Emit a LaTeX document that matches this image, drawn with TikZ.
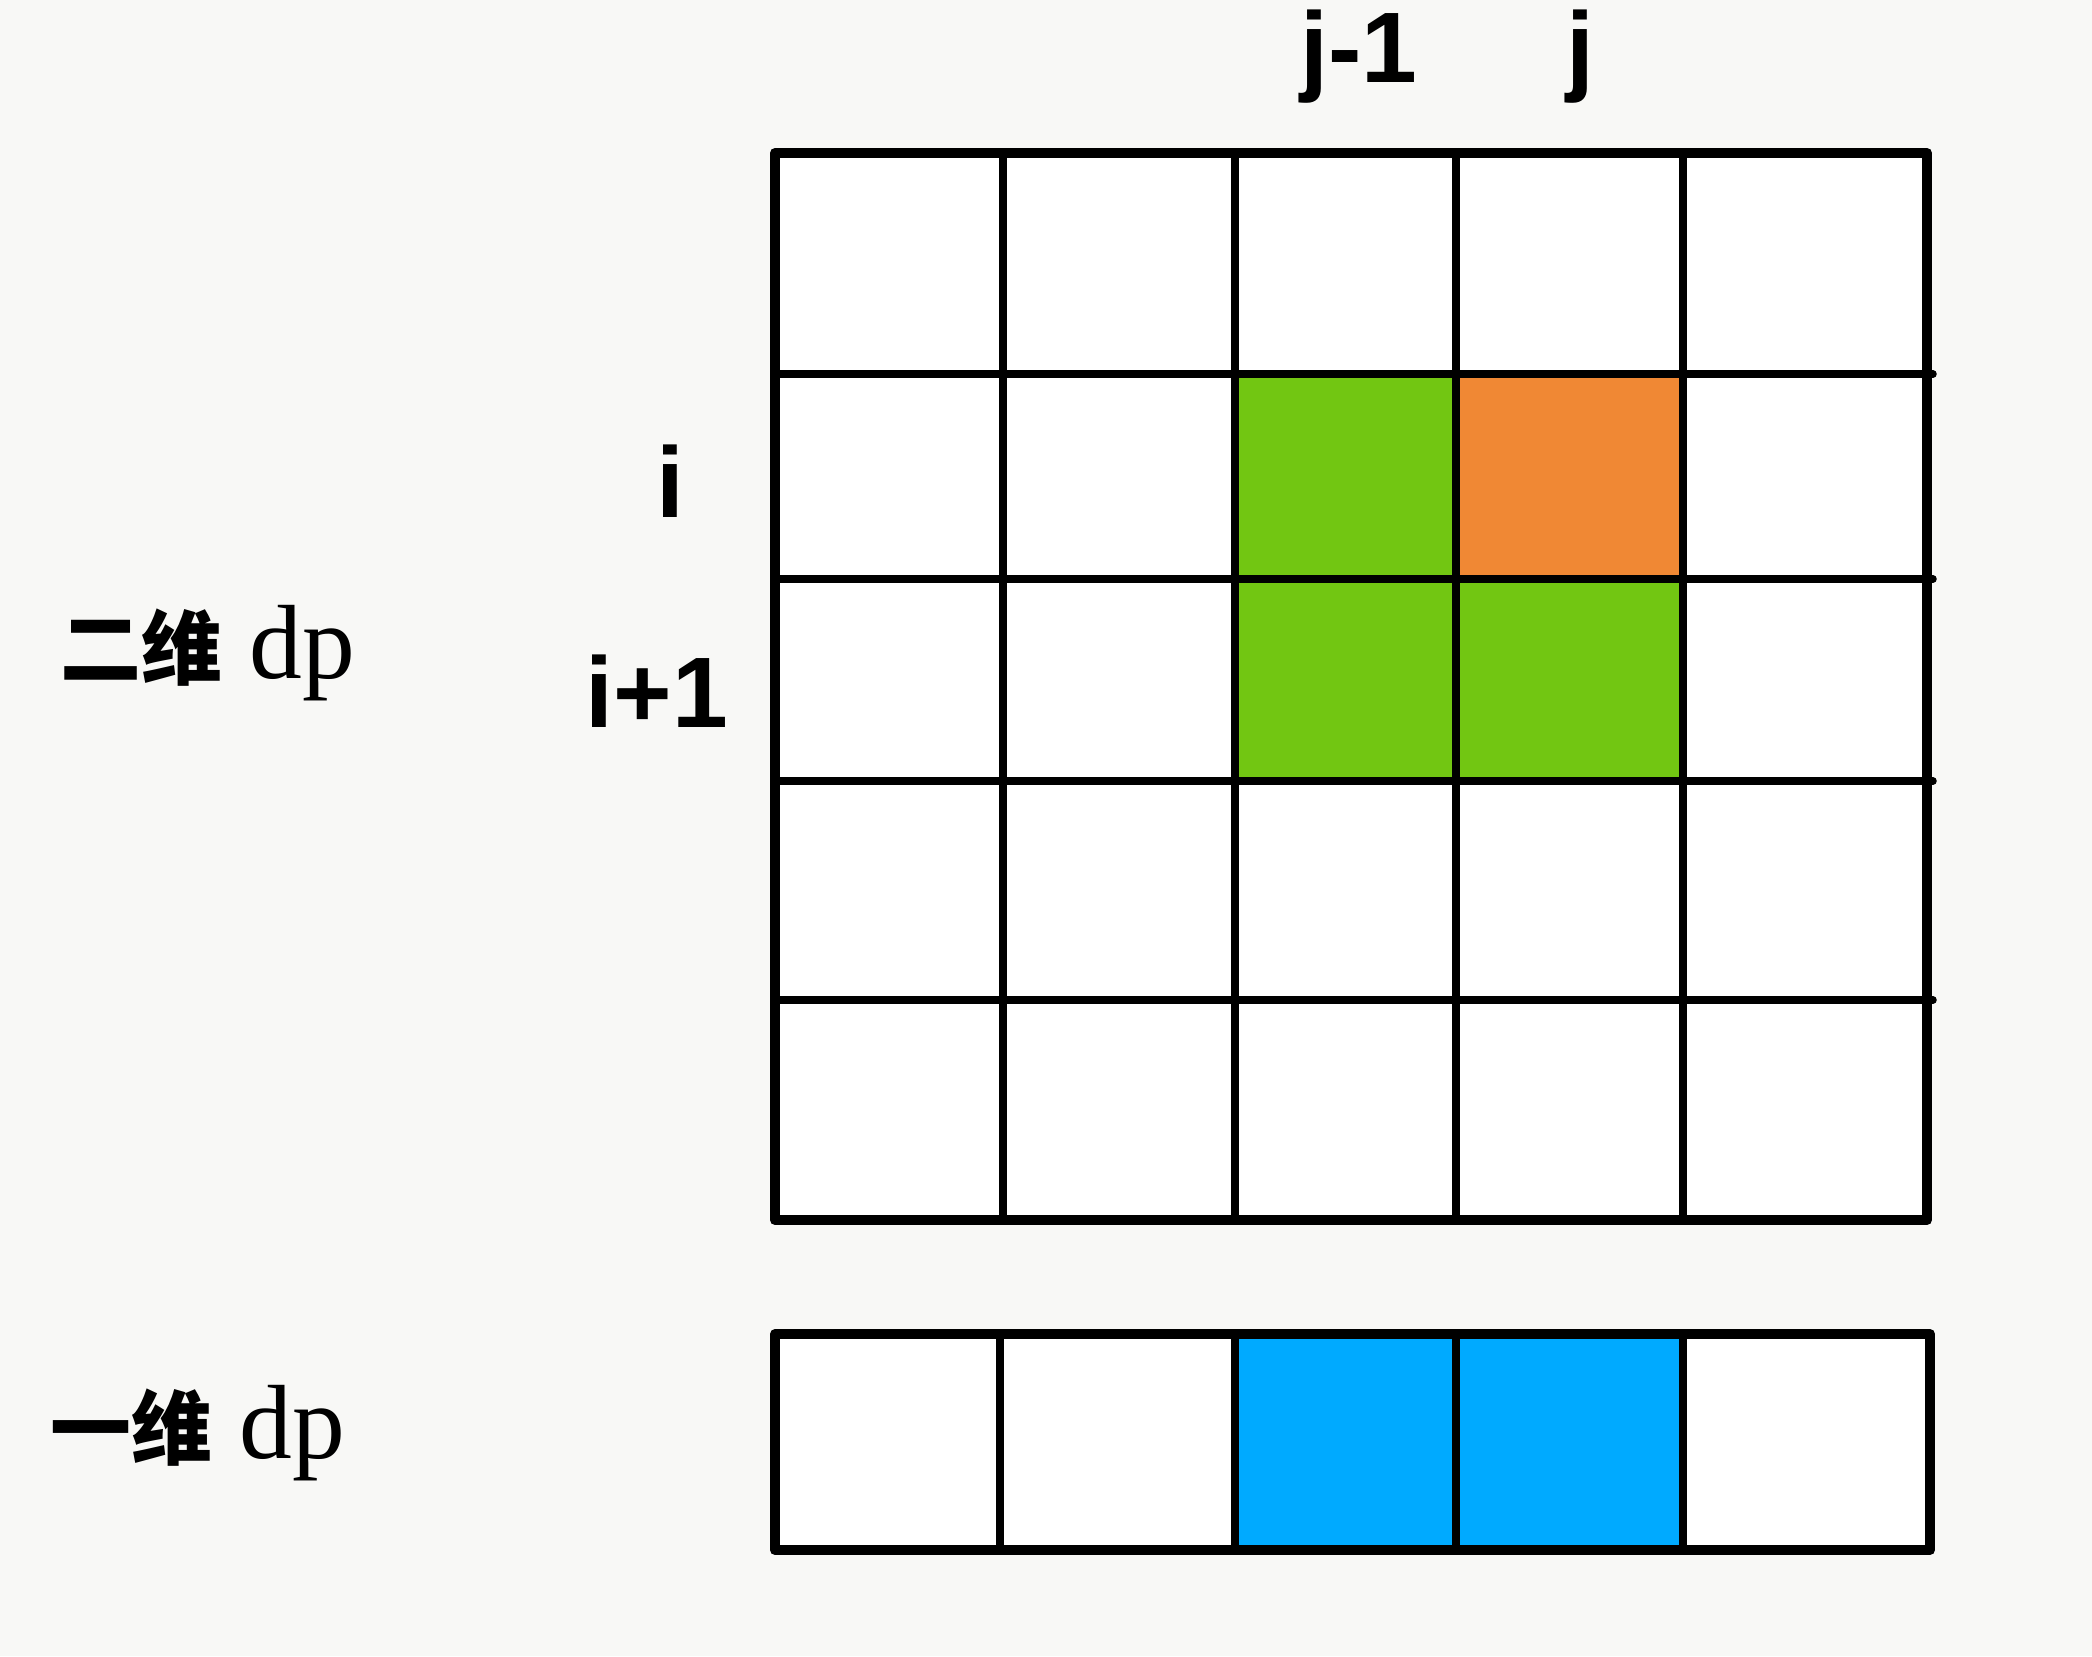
\documentclass[tikz,border=0pt]{standalone}
\usepackage{fontspec}
\setmainfont{Liberation Serif}
\newfontfamily\labsans{Liberation Sans}
\newfontfamily\cjk{Noto Sans CJK SC}
\definecolor{bg}{RGB}{248,248,246}
\definecolor{cellgreen}{RGB}{114,198,18}
\definecolor{cellorange}{RGB}{240,136,52}
\definecolor{cellblue}{RGB}{0,170,255}
\tikzset{
  gridline/.style={line width=0.075cm, line cap=round, black},
  outerline/.style={line width=0.10cm, line cap=round, line join=round, black},
  idxlabel/.style={font=\labsans\bfseries\fontsize{28.5}{30}\selectfont, anchor=base, inner sep=0pt},
  dimlabel/.style={anchor=base west, inner sep=0pt},
}
\newcommand{\dimtext}[1]{{\cjk\bfseries\fontsize{23}{26}\selectfont #1}\hspace{0.27cm}{\fontsize{30}{32}\selectfont dp}}
\begin{document}
\begin{tikzpicture}[x=0.01cm,y=-0.01cm]
  % background
  \fill[bg] (0,0) rectangle (2092,1656);
  \useasboundingbox (0,0) rectangle (2092,1656);
  % white cells
  \fill[white] (775,153) rectangle (1927,1220);
  \fill[white] (775,1334) rectangle (1930,1550);
  % coloured cells
  \fill[cellgreen] (1235,374) rectangle (1456,781);
  \fill[cellgreen] (1456,579) rectangle (1683,781);
  \fill[cellorange] (1456,374) rectangle (1683,579);
  \fill[cellblue] (1235,1334) rectangle (1683,1550);
  % 2D grid inner lines
  \foreach \x in {1003,1235,1456,1683} {
    \draw[gridline] (\x,153) -- (\x,1220);
  }
  \foreach \y in {374,579,781,1000} {
    \draw[gridline] (775,\y) -- (1933,\y);
  }
  \draw[outerline] (775,153) rectangle (1927,1220);
  % 1D row
  \foreach \x in {1000,1235,1456,1683} {
    \draw[gridline] (\x,1334) -- (\x,1550);
  }
  \draw[outerline] (775,1334) rectangle (1930,1550);
  % labels
  \node[idxlabel] (jm1) at (1359,82) {j-1};
  \node[idxlabel] (jj) at (1580,82) {j};
  \node[idxlabel] (ii) at (670,517) {i};
  \node[idxlabel] (ip1) at (657,727) {i+1};
  \node[dimlabel] (two) at (60,678) {\dimtext{二维}};
  \node[dimlabel] (one) at (50,1458) {\dimtext{一维}};
\end{tikzpicture}
\end{document}
